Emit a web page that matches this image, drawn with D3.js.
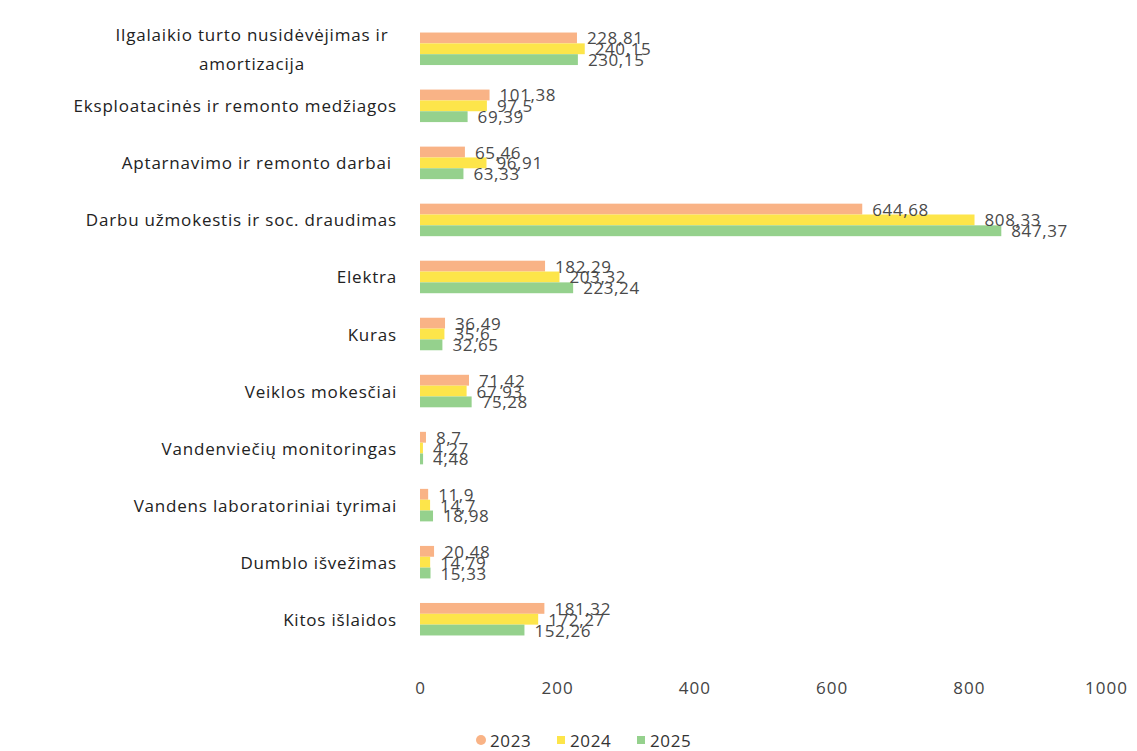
<!DOCTYPE html>
<html>
<head>
<meta charset="utf-8">
<script src="https://cdn.jsdelivr.net/npm/d3@7"></script>
<style>
  body { margin: 0; background: #fff; }
  #c { width: 1137px; height: 751px; }
  text { font-family: "Open Sans", "Noto Sans", sans-serif; }
</style>
</head>
<body>
<div id="c"></div>
<script>
"use strict";

const categories = [
    "Ilgalaikio turto nusidėvėjimas ir amortizacija",
    "Eksploatacinės ir remonto medžiagos",
    "Aptarnavimo ir remonto darbai ",
    "Darbu užmokestis ir soc. draudimas",
    "Elektra",
    "Kuras",
    "Veiklos mokesčiai",
    "Vandenviečių monitoringas",
    "Vandens laboratoriniai tyrimai",
    "Dumblo išvežimas",
    "Kitos išlaidos"
]
const years = ["2023", "2024", "2025"]
const values2023 = [228.81, 101.38, 65.46, 644.68, 182.29, 36.49, 71.42, 8.7, 11.9, 20.48, 181.32]
const values2024 = [240.15, 97.5, 96.91, 808.33, 203.32, 35.6, 67.93, 4.27, 14.7, 14.79, 172.27]
const values2025 = [230.15, 69.39, 63.33, 847.37, 223.24, 32.65, 75.28, 4.48, 18.98, 15.33, 152.26]
const xTicks = [0, 200, 400, 600, 800, 1000]

const colors = { "2023": "#f9b386", "2024": "#fde54a", "2025": "#95d18d" }
const seriesByYear = { "2023": values2023, "2024": values2024, "2025": values2025 }

window.onload = function() {
    drawChart()
}

function fmt(v) {
    return String(v).replace('.', ',')
}

function drawChart() {
    const svg = d3.select('#c').append('svg')
        .attr('width', 1137).attr('height', 751)

    const xScale = d3.scaleLinear().domain([0, 1000]).range([420, 1106])
    const yScale = d3.scaleBand().domain(categories).range([8, 660]).padding(0.43)
    const subScale = d3.scaleBand().domain(years).range([0, yScale.bandwidth()])

    // bars
    categories.forEach((cat, i) => {
        const g = svg.append('g')
            .attr('transform', 'translate(0,' + yScale(cat) + ')')
        years.forEach(yr => {
            const v = seriesByYear[yr][i]
            g.append('rect')
                .attr('x', xScale(0))
                .attr('y', subScale(yr))
                .attr('width', xScale(v) - xScale(0))
                .attr('height', subScale.bandwidth())
                .attr('fill', colors[yr])
        })
        years.forEach(yr => {
            const v = seriesByYear[yr][i]
            g.append('text')
                .attr('x', xScale(v) + 10)
                .attr('y', subScale(yr) + subScale.bandwidth() / 2)
                .attr('dominant-baseline', 'central')
                .style('font-size', '17px')
                .style('letter-spacing', '0.6px')
                .attr('fill', '#4a4a4a')
                .text(fmt(v))
        })
    })

    // category labels
    categories.forEach((cat, i) => {
        const cy = yScale(cat) + yScale.bandwidth() / 2
        if (i == 0) {
            const lines = ["Ilgalaikio turto nusidėvėjimas ir", "amortizacija"]
            lines.forEach((ln, k) => {
                svg.append('text')
                    .attr('x', 252)
                    .attr('y', cy + (k - 0.5) * 29)
                    .attr('text-anchor', 'middle')
                    .attr('dominant-baseline', 'central')
                    .style('font-size', '17px')
                    .style('letter-spacing', '0.8px')
                    .attr('fill', '#222')
                    .text(ln)
            })
        } else {
            svg.append('text')
                .attr('x', 397)
                .attr('y', cy)
                .attr('text-anchor', 'end')
                .attr('dominant-baseline', 'central')
                .style('font-size', '17px')
                .style('letter-spacing', '0.8px')
                .style('white-space', 'pre')
                .attr('fill', '#222')
                .text(cat)
        }
    })

    // x axis
    const axis = svg.append('g')
        .attr('transform', 'translate(0,679)')
        .call(d3.axisBottom(xScale).tickValues(xTicks).tickSize(0).tickFormat(d3.format('d')))
    axis.select('.domain').remove()
    axis.selectAll('text')
        .style('font-size', '17px')
        .style('letter-spacing', '1px')
        .style('font-family', '"Open Sans", sans-serif')
        .attr('fill', '#444')

    // legend
    const legend = svg.append('g').attr('transform', 'translate(481,740)')
    years.forEach((yr, i) => {
        const g = legend.append('g').attr('transform', 'translate(' + (i * 80) + ',0)')
        if (i == 0) {
            g.append('circle').attr('cx', 0).attr('cy', 0).attr('r', 5).attr('fill', colors[yr])
        } else {
            g.append('rect').attr('x', -4).attr('y', -4).attr('width', 8).attr('height', 8).attr('fill', colors[yr])
        }
        g.append('text')
            .attr('x', 9).attr('y', 0)
            .attr('dominant-baseline', 'central')
            .style('font-size', '17px')
            .style('letter-spacing', '0.6px')
            .attr('fill', '#333')
            .text(yr)
    })
}
</script>
</body>
</html>
